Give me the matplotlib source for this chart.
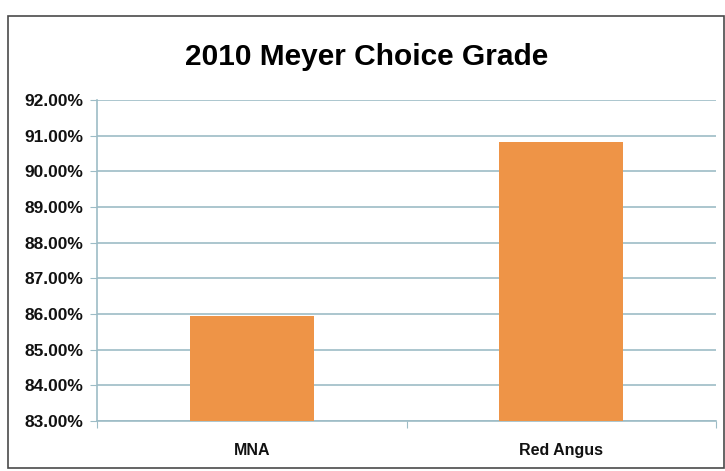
import matplotlib
matplotlib.use('Agg')
import matplotlib.pyplot as plt
from matplotlib.patches import Rectangle
from matplotlib.ticker import FuncFormatter, MultipleLocator

breeds = ['MNA', 'Red Angus']
choice_pct = [85.93, 90.81]

FONT = ['Liberation Sans', 'DejaVu Sans']
BAR_COLOR = '#EE9447'
GRID_COLOR = '#9DBCC6'

fig = plt.figure(figsize=(7.25, 4.71), dpi=100)
fig.patch.set_facecolor('white')

# outer chart border
fig.add_artist(Rectangle((8 / 725, 3 / 471), 716 / 725, 452 / 471,
                         transform=fig.transFigure, fill=False,
                         edgecolor='#4a4a4a', linewidth=1.2))

ax = fig.add_axes([97 / 725, 50 / 471, 619 / 725, 321 / 471])
x = range(len(breeds))
ax.bar(x, choice_pct, width=0.4, color=BAR_COLOR, zorder=3)

ax.set_ylim(83, 92)
ax.set_xlim(-0.5, 1.5)
ax.yaxis.set_major_locator(MultipleLocator(1))
ax.yaxis.set_major_formatter(FuncFormatter(lambda v, p: '%.2f%%' % v))
ax.grid(axis='y', color=GRID_COLOR, linewidth=1.2, zorder=0)

ax.set_xticks([-0.5, 0.5, 1.5])
ax.set_xticklabels([])
ax.set_xticks(list(x), minor=True)
ax.set_xticklabels(breeds, minor=True)
ax.tick_params(axis='x', which='major', length=5, color=GRID_COLOR, direction='out')
ax.tick_params(axis='x', which='minor', length=0, pad=16)
ax.tick_params(axis='y', length=5, color=GRID_COLOR, pad=5)

for spine in ['top', 'right']:
    ax.spines[spine].set_visible(False)
ax.spines['left'].set_color(GRID_COLOR)
ax.spines['bottom'].set_color(GRID_COLOR)
ax.spines['left'].set_linewidth(1.2)
ax.spines['bottom'].set_linewidth(1.2)

for lab in ax.get_yticklabels():
    lab.set_fontfamily(FONT)
    lab.set_fontweight('bold')
    lab.set_fontsize(12.5)
    lab.set_color('#111111')
for lab in ax.get_xticklabels(minor=True):
    lab.set_fontfamily(FONT)
    lab.set_fontweight('bold')
    lab.set_fontsize(11.5)
    lab.set_color('#111111')

fig.text(367 / 725, 1 - 57 / 471, '2010 Meyer Choice Grade', ha='center', va='center',
         fontsize=21.5, fontweight='bold', family=FONT, color='black')

fig.savefig('out.png', dpi=100)
